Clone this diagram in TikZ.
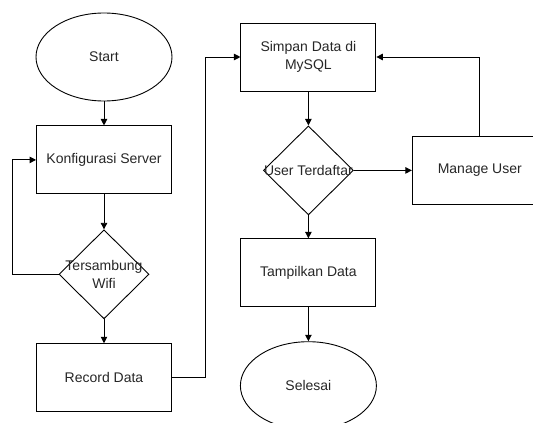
\documentclass[tikz,border=0pt]{standalone}
\usepackage{fontspec}
\setmainfont{Liberation Sans}
\usetikzlibrary{positioning,shapes.geometric,arrows.meta}

\begin{document}
\begin{tikzpicture}[x=1pt, y=-1pt, node distance=24pt and 60pt,
    font=\fontsize{14}{17.5}\selectfont, line width=0.9pt,
    terminal/.style={draw, ellipse, minimum width=136pt, minimum height=88pt, inner sep=0pt, text=black!85},
    process/.style={draw, rectangle, minimum width=135pt, minimum height=68pt, align=center, inner sep=0pt, text=black!85},
    decision/.style={draw, diamond, minimum width=90pt, minimum height=89pt, inner sep=0pt},
    arr/.style={-{Triangle[length=6.5pt, width=6.5pt]}}]

    \useasboundingbox (0,0) rectangle (533,423);
    \clip (0,0) rectangle (533,423);

    \node[terminal] (start) at (104,57) {Start};
    \node[process, below=24pt of start] (konf) {Konfigurasi Server};
    \node[decision, below=35pt of konf,
          label={[align=center, text=black!85]center:Tersambung\\Wifi}] (wifi) {};
    \node[process, below=24pt of wifi] (record) {Record Data};

    \node[process, right=68pt of start] (simpan) {Simpan Data di\\MySQL};
    \node[decision, below=34pt of simpan,
          label={[text=black!85]center:User Terdaftar}] (user) {};
    \node[process, below=23pt of user] (tampil) {Tampilkan Data};
    \node[terminal, below=34pt of tampil] (selesai) {Selesai};

    \node[process, right=58pt of user] (manage) {Manage User};

    \draw[arr] (start) -- (konf);
    \draw[arr] (konf) -- (wifi);
    \draw[arr] (wifi) -- (record);
    \draw[arr] (wifi.west) -- ++(-46,0) |- (konf.west);
    \draw[arr] (record.east) -- ++(33,0) |- (simpan.west);
    \draw[arr] (simpan) -- (user);
    \draw[arr] (user) -- (tampil);
    \draw[arr] (tampil) -- (selesai);
    \draw[arr] (user.east) -- (manage.west);
    \draw[arr] (manage.north) |- (simpan.east);

\end{tikzpicture}
\end{document}
